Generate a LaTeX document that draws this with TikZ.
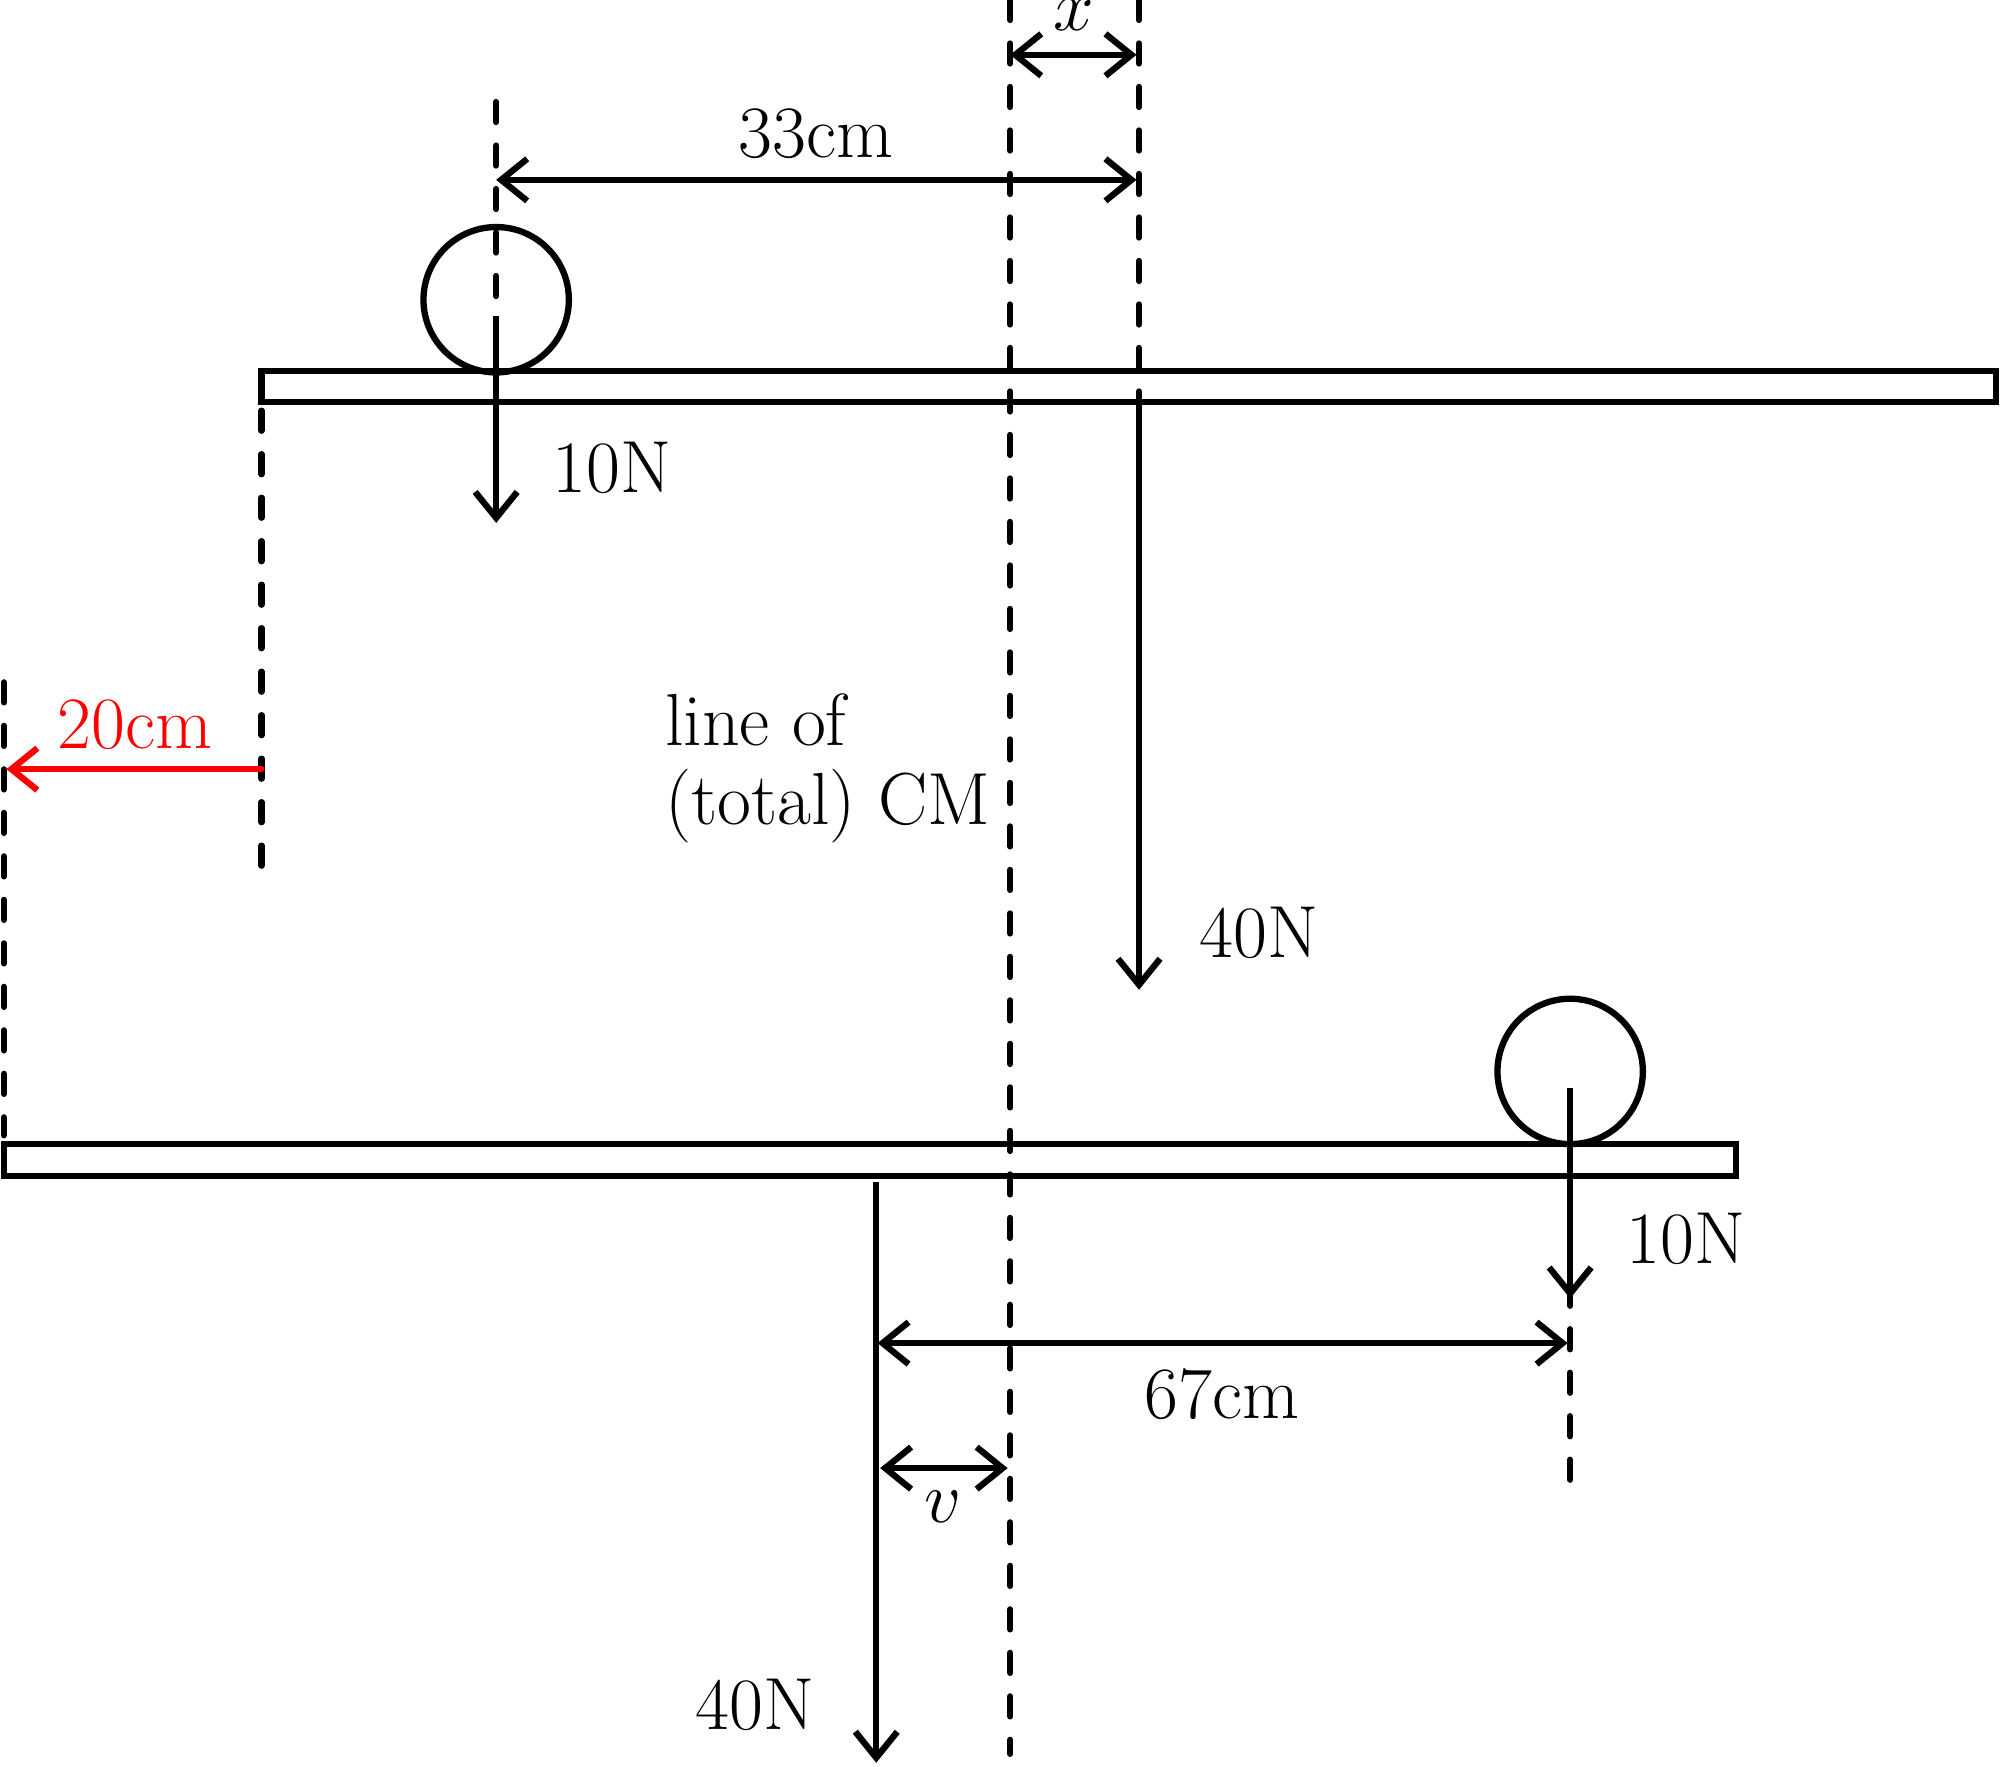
\documentclass[tikz,border=0pt]{standalone}
\usetikzlibrary{arrows.meta}
\begin{document}
\begin{tikzpicture}[x=0.012755cm,y=-0.012755cm,
  every path/.style={line width=1.8pt},
  lbl/.style={font=\fontsize{21}{22.5}\selectfont, inner sep=0pt},
  dline/.style={dash pattern=on 0.2cm off 0.235cm, line cap=round},
  force/.style={-{Straight Barb[length=2.6mm,width=4.2mm,line width=1.8pt]}},
  dim/.style={{Straight Barb[length=2.6mm,width=4.2mm,line width=1.8pt]}-{Straight Barb[length=2.6mm,width=4.2mm,line width=1.8pt]}},
  ball/.style={draw, circle, minimum size=1.454cm, inner sep=0pt, line width=1.8pt},
  beam/.style={draw, line width=1.8pt}]
\useasboundingbox (0,0) rectangle (1568,1385);

% coordinates
\coordinate (b1c) at (389,235);
\coordinate (b2c) at (1231,840);
\coordinate (d1t) at (389,80);
\coordinate (d1b) at (389,240);
\coordinate (f1s) at (389,248);
\coordinate (f1e) at (389,410);
\coordinate (cmt) at (792,0);
\coordinate (cmb) at (792,1375);
\coordinate (d2t) at (893,0);
\coordinate (d2b) at (893,318);
\coordinate (f2s) at (893,312);
\coordinate (f2e) at (893,776);
\coordinate (a33l) at (389,141);
\coordinate (a33r) at (891,141);
\coordinate (axl) at (792,43);
\coordinate (axr) at (891,43);
\coordinate (d3t) at (205,322);
\coordinate (d3b) at (205,680);
\coordinate (r1) at (205,603);
\coordinate (r2) at (5,603);
\coordinate (d4t) at (3,535);
\coordinate (d4b) at (3,890);
\coordinate (f3s) at (1231,853);
\coordinate (f3e) at (1231,1018);
\coordinate (d5t) at (1231,1008);
\coordinate (d5b) at (1231,1168);
\coordinate (a67l) at (688,1053);
\coordinate (a67r) at (1229,1053);
\coordinate (avl) at (690,1151);
\coordinate (avr) at (790,1151);
\coordinate (f4s) at (687,927);
\coordinate (f4e) at (687,1382);

% beams
\draw[beam] (205,291) rectangle (1565,315);
\draw[beam] (3,897) rectangle (1361,922);

% balls
\node[ball] (ball1) at (b1c) {};
\node[ball] (ball2) at (b2c) {};

% dashed lines
\draw[dline] (d1t) -- (d1b);
\draw[dline] (cmt) -- (cmb);
\draw[dline] (d2t) -- (d2b);
\draw[dline] (d3t) -- (d3b);
\draw[dline] (d4t) -- (d4b);
\draw[dline] (d5t) -- (d5b);

% forces
\draw[force] (f1s) -- (f1e);
\draw[force] (f2s) -- (f2e);
\draw[force] (f3s) -- (f3e);
\draw[force] (f4s) -- (f4e);

% dimensions
\draw[dim] (a33l) -- (a33r);
\draw[dim] (axl) -- (axr);
\draw[dim] (a67l) -- (a67r);
\draw[dim] (avl) -- (avr);
\draw[red, line cap=round, -{Straight Barb[length=2.6mm,width=4.2mm,line width=1.8pt]}] (r1) -- (r2);

% labels
\node[lbl] (l10a) at (480,367) {10N};
\node[lbl] (l33) at (640,105) {33cm};
\node[lbl] (lx) at (842,12) {$x$};
\node[lbl] (l40a) at (987,731) {40N};
\node[lbl, text=red] (l20) at (106,568) {20cm};
\node[lbl, anchor=west, align=left] (lcm) at (519,602) {line of\\(total) CM};
\node[lbl] (l10b) at (1322,971) {10N};
\node[lbl] (l67) at (958,1093) {67cm};
\node[lbl] (lv) at (739,1181) {$v$};
\node[lbl] (l40b) at (592,1337) {40N};
\end{tikzpicture}
\end{document}
